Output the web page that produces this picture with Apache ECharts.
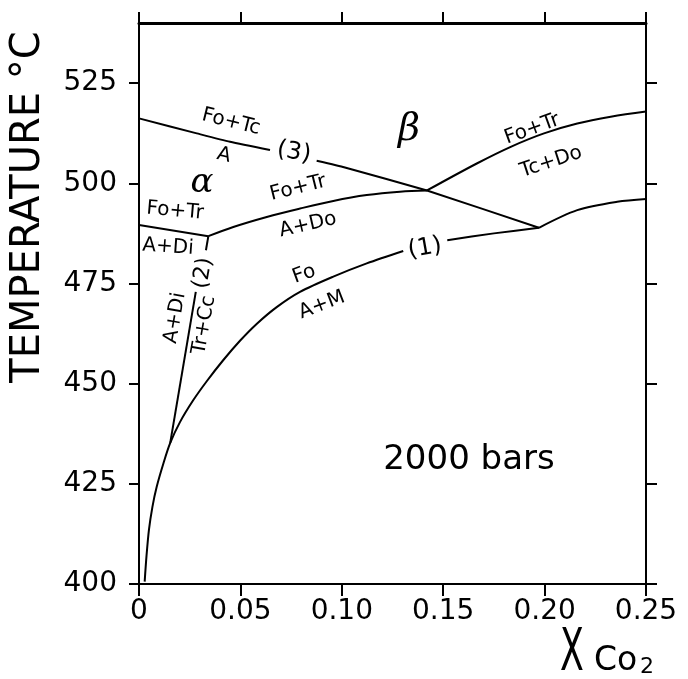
<!DOCTYPE html>
<html><head><meta charset="utf-8">
<script src="https://cdn.jsdelivr.net/npm/echarts@6/dist/echarts.min.js"></script>
<style>html,body{margin:0;padding:0;background:#fff}#c{width:688px;height:679px}</style>
</head><body><div id="c"></div>
<script>
// ---- tick values / labels ----
const xTicks = [0, 0.05, 0.10, 0.15, 0.20, 0.25];
const xTickLabels = ['0', '0.05', '0.10', '0.15', '0.20', '0.25'];
const yTicks = [400, 425, 450, 475, 500, 525];
const yTickLabels = ['400', '425', '450', '475', '500', '525'];

// ---- univariant curves [X_CO2, T(°C)] ----
// curve (1): Fo = A + M (broken at the "(1)" label)
const curve1a = [[0.0028,400.6],[0.0037,407.0],[0.0049,413.5],[0.0066,419.2],[0.0087,424.2],[0.0121,430.2],[0.0154,435.2],[0.0202,440.4],[0.0268,445.9],[0.0334,450.6],[0.0416,455.9],[0.0498,460.7],[0.0580,464.9],[0.0679,469.1],[0.0794,472.9],[0.0958,476.7],[0.1123,480.0],[0.1303,483.1]];
const curve1b = [[0.1520,485.8],[0.1750,487.5],[0.1972,488.9]];
const curve1c = [[0.1972,488.9],[0.2161,493.3],[0.2358,495.4],[0.2500,496.1]];
// curve (2): A + Di = Tr + Cc (broken at the "(2)" label)
const curve2a = [[0.0342,486.8],[0.0330,483.3]];
const curve2b = [[0.0280,472.9],[0.0154,435.2]];
// curve (3): Fo + Tc = A (broken at the "(3)" label)
const curve3a = [[0,516.2],[0.0285,512.45],[0.0449,510.35],[0.0646,508.3]];
const curve3b = [[0.0876,505.6],[0.1011,504.0],[0.1420,498.2],[0.1972,488.9]];
// Fo + Tr = A + Di
const curveFoTrADi = [[0,489.6],[0.0342,486.8]];
// Fo + Tr = A + Do
const curveFoTrADo = [[0.0342,486.8],[0.0465,489.1],[0.0630,491.6],[0.0794,493.7],[0.0958,495.6],[0.1123,497.05],[0.1287,497.9],[0.1420,498.2]];
// Fo + Tr = Tc + Do
const curveFoTrTcDo = [[0.1420,498.2],[0.1668,505.0],[0.1833,509.1],[0.1997,512.45],[0.2161,514.9],[0.2326,516.6],[0.2500,517.9]];

// ---- annotation texts and their anchor points [X_CO2, T] ----
const labelTexts = ['Fo+Tc','A','(3)','α','β','Fo+Tr','Tc+Do','Fo+Tr','A+Do','Fo+Tr','A+Di','(2)','A+Di','Tr+Cc','Fo','A+M','(1)','2000 bars'];
const labelX = [0.0454,0.0419,0.0764,0.0311,0.1331,0.1938,0.2032,0.0784,0.0833,0.0178,0.0143,0.0316,0.0178,0.0321,0.0814,0.0902,0.1410,0.1627];
const labelY = [515.3,507.0,507.7,500.0,513.3,513.5,505.3,498.8,489.6,493.1,484.1,477.6,466.4,464.6,477.3,469.6,483.8,430.9];

// ---- styling (kept apart from the data) ----
const labelRotate = [-14,-14,-10,0,0,20,18,14,13,-5,-4,80,80,80,20,21,10,0];
const labelSize   = [20,20,24,34,38,20,20,20,20,20,20,22,20,20,20,20,24,34];
const labelItalic = [false,false,false,true,true,false,false,false,false,false,false,false,false,false,false,false,false,false];

const chart = echarts.init(document.getElementById('c'), null, {renderer: 'canvas'});

function seg(data, smooth) {
  return {
    type: 'line', data: data, symbol: 'none', showSymbol: false, smooth: smooth,
    lineStyle: {color: '#000', width: 2}, silent: true, animation: false, z: 3
  };
}

const fmtX = v => { const i = xTicks.findIndex(t => Math.abs(t - v) < 1e-9); return i >= 0 ? xTickLabels[i] : ''; };
const fmtY = v => { const i = yTicks.findIndex(t => Math.abs(t - v) < 1e-9); return i >= 0 ? yTickLabels[i] : ''; };

const labelData = labelTexts.map((t, i) => ({
  name: t,
  value: [labelX[i], labelY[i]],
  label: {
    rotate: labelRotate[i], fontSize: labelSize[i],
    fontFamily: labelItalic[i] ? 'DejaVu Serif' : 'DejaVu Sans',
    fontStyle: labelItalic[i] ? 'italic' : 'normal'
  }
}));

const axisFont = {color: '#000', fontSize: 28, fontFamily: 'DejaVu Sans'};

chart.setOption({
  animation: false,
  backgroundColor: '#fff',
  grid: {left: 139, right: 42, top: 23, bottom: 95, containLabel: false},
  xAxis: [{
    type: 'value', min: 0, max: 0.25, interval: 0.05, position: 'bottom',
    axisLine: {show: true, onZero: false, lineStyle: {color: '#000', width: 2}},
    axisTick: {show: true, inside: false, length: 12, lineStyle: {color: '#000', width: 2}, customValues: xTicks},
    axisLabel: Object.assign({show: true, margin: 14, formatter: fmtX, customValues: xTicks}, axisFont),
    splitLine: {show: false}
  }, {
    type: 'value', min: 0, max: 0.25, interval: 0.05, position: 'top',
    axisLine: {show: true, onZero: false, lineStyle: {color: '#000', width: 3}},
    axisTick: {show: true, inside: false, length: 11, lineStyle: {color: '#000', width: 2}, customValues: xTicks},
    axisLabel: {show: false},
    splitLine: {show: false}
  }],
  yAxis: [{
    type: 'value', min: 400, max: 540, position: 'left',
    axisLine: {show: true, onZero: false, lineStyle: {color: '#000', width: 2}},
    axisTick: {show: true, inside: false, length: 10, lineStyle: {color: '#000', width: 2}, customValues: yTicks},
    axisLabel: Object.assign({show: true, margin: 22, formatter: fmtY, customValues: yTicks}, axisFont),
    splitLine: {show: false}
  }, {
    type: 'value', min: 400, max: 540, position: 'right',
    axisLine: {show: true, onZero: false, lineStyle: {color: '#000', width: 2}},
    axisTick: {show: true, inside: false, length: 11, lineStyle: {color: '#000', width: 2}, customValues: yTicks},
    axisLabel: {show: false},
    splitLine: {show: false}
  }],
  series: [
    seg(curve1a, 0.3), seg(curve1b, 0.2), seg(curve1c, 0.3),
    seg(curve2a, false), seg(curve2b, false),
    seg(curve3a, 0.2), seg(curve3b, 0.1),
    seg(curveFoTrADi, false), seg(curveFoTrADo, 0.35), seg(curveFoTrTcDo, 0.35),
    {
      type: 'scatter', data: labelData, symbol: 'circle', symbolSize: 0, silent: true, animation: false, z: 5,
      itemStyle: {color: '#000', opacity: 1},
      label: {show: true, position: 'inside', formatter: '{b}', color: '#000', opacity: 1,
              textBorderWidth: 0, fontFamily: 'DejaVu Sans', align: 'center', verticalAlign: 'middle'}
    }
  ],
  graphic: [
    {type: 'text', x: 29, y: 207, rotation: Math.PI / 2, silent: true,
     style: {text: 'TEMPERATURE °C', font: '40px "DejaVu Sans"', fill: '#000', align: 'center', verticalAlign: 'middle'}},
    {type: 'text', x: 572, y: 655, scaleX: 0.6, silent: true,
     style: {text: 'X', font: '58px "DejaVu Sans"', fill: '#000', align: 'center', verticalAlign: 'middle'}},
    {type: 'text', x: 594, y: 661, silent: true,
     style: {text: 'Co', font: '33px "DejaVu Sans"', fill: '#000', align: 'left', verticalAlign: 'middle'}},
    {type: 'text', x: 640, y: 667, silent: true,
     style: {text: '2', font: '22px "DejaVu Sans"', fill: '#000', align: 'left', verticalAlign: 'middle'}}
  ]
});
</script>
</body></html>
